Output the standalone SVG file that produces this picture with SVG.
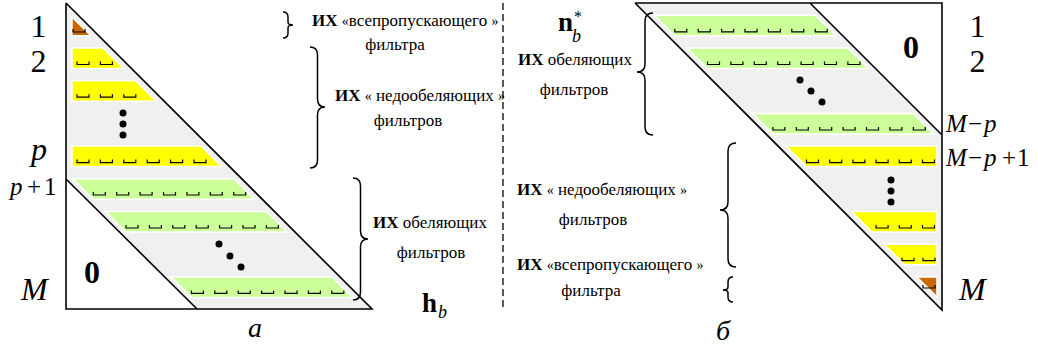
<svg xmlns="http://www.w3.org/2000/svg" width="1038" height="349" viewBox="0 0 1038 349">
<defs>
<path id="mk" d="M0,-3V0H12V-3" fill="none" stroke="#000" stroke-width="1.2"/>
</defs>
<rect width="1038" height="349" fill="#fff"/>

<g id="left-panel">
  <polygon fill="#f0f0f0" points="66,3 66,179 197,309 372,309"/>
  <g stroke="#fff" stroke-width="1.5">
    <polygon fill="#cc6600" points="72,17 72,35.8 90.8,35.8"/>
    <g fill="#ffff00">
      <polygon points="72,48 103,48 123.5,68.5 72,68.5"/>
      <polygon points="72,80.7 135.7,80.7 156.2,101.2 72,101.2"/>
      <polygon points="72,146.1 201.1,146.1 221.6,166.6 72,166.6"/>
    </g>
    <g fill="#ccff99">
      <polygon points="72.8,178.8 233.8,178.8 254.3,199.3 93.3,199.3"/>
      <polygon points="105.5,211.5 266.5,211.5 287,232 126,232"/>
      <polygon points="170.9,276.9 331.9,276.9 352.4,297.4 191.4,297.4"/>
    </g>
  </g>
  <g id="left-marks">
    <use href="#mk" x="73" y="32"/>
    <use href="#mk" x="77" y="64.5"/><use href="#mk" x="100.4" y="64.5"/>
    <use href="#mk" x="77" y="97.2"/><use href="#mk" x="100.4" y="97.2"/><use href="#mk" x="123.8" y="97.2"/>
    <use href="#mk" x="77" y="162.6"/><use href="#mk" x="100.4" y="162.6"/><use href="#mk" x="123.8" y="162.6"/><use href="#mk" x="147.2" y="162.6"/><use href="#mk" x="170.6" y="162.6"/><use href="#mk" x="194" y="162.6"/>
    <use href="#mk" x="93.3" y="195"/><use href="#mk" x="116.7" y="195"/><use href="#mk" x="140.1" y="195"/><use href="#mk" x="163.5" y="195"/><use href="#mk" x="186.9" y="195"/><use href="#mk" x="210.3" y="195"/><use href="#mk" x="233.7" y="195"/>
    <use href="#mk" x="126" y="228"/><use href="#mk" x="149.4" y="228"/><use href="#mk" x="172.8" y="228"/><use href="#mk" x="196.2" y="228"/><use href="#mk" x="219.6" y="228"/><use href="#mk" x="243" y="228"/><use href="#mk" x="266.4" y="228"/>
    <use href="#mk" x="191.4" y="293.4"/><use href="#mk" x="214.8" y="293.4"/><use href="#mk" x="238.2" y="293.4"/><use href="#mk" x="261.6" y="293.4"/><use href="#mk" x="285" y="293.4"/><use href="#mk" x="308.4" y="293.4"/><use href="#mk" x="331.8" y="293.4"/>
  </g>
  <g id="left-dots" fill="#000">
    <circle cx="123" cy="113" r="3.5"/><circle cx="123" cy="124" r="3.5"/><circle cx="123" cy="135" r="3.5"/>
    <circle cx="219" cy="244" r="3.5"/><circle cx="230" cy="256" r="3.5"/><circle cx="241" cy="267" r="3.5"/>
  </g>
  <path d="M66,3V309H372L66,3M66,179L197,309" fill="none" stroke="#000" stroke-width="1.6"/>
  <text font-family="Liberation Serif, Tinos, Times New Roman, serif" font-size="32" font-weight="bold" x="92" y="283" text-anchor="middle">0</text>
</g>

<g id="left-labels" font-family="Liberation Serif, Tinos, Times New Roman, serif">
  <text font-family="Liberation Serif, Tinos, Times New Roman, serif" font-size="32" x="38.5" y="37" text-anchor="middle">1</text>
  <text font-family="Liberation Serif, Tinos, Times New Roman, serif" font-size="32" x="38.5" y="72" text-anchor="middle">2</text>
  <text font-family="Liberation Serif, Tinos, Times New Roman, serif" font-size="32" font-style="italic" x="31" y="160">p</text>
  <text font-family="Liberation Serif, Tinos, Times New Roman, serif" font-size="25" y="195"><tspan font-style="italic" x="10">p</tspan><tspan x="27">+</tspan><tspan x="44">1</tspan></text>
  <text font-family="Liberation Serif, Tinos, Times New Roman, serif" font-size="32" font-style="italic" x="21" y="300">M</text>
  <text font-family="Liberation Serif, Tinos, Times New Roman, serif" font-size="28" font-style="italic" x="255" y="337" text-anchor="middle">a</text>
</g>

<g id="left-braces" fill="none" stroke="#000" stroke-width="1.5">
  <path d="M283,12Q288,12 288,17V22Q288,25 293,25Q288,25 288,28V33Q288,38 283,38"/>
  <path d="M310,47Q317.5,47 317.5,55V99Q317.5,107 325,107Q317.5,107 317.5,115V160Q317.5,168 310,168"/>
  <path d="M353,178Q360.5,178 360.5,186V231Q360.5,239 368,239Q360.5,239 360.5,247V292Q360.5,300 353,300"/>
</g>

<g id="left-texts" font-family="Liberation Serif, Tinos, Times New Roman, serif">
  <text font-family="Liberation Serif, Tinos, Times New Roman, serif" font-size="17" x="312" y="26"><tspan font-weight="bold">ИХ</tspan> <tspan font-size="14">«</tspan>всепропускающего <tspan font-size="14">»</tspan></text>
  <text font-family="Liberation Serif, Tinos, Times New Roman, serif" font-size="17" x="395" y="50" text-anchor="middle">фильтра</text>
  <text font-family="Liberation Serif, Tinos, Times New Roman, serif" font-size="17" x="335" y="101"><tspan font-weight="bold">ИХ</tspan> <tspan font-size="14">«</tspan> недообеляющих <tspan font-size="14">»</tspan></text>
  <text font-family="Liberation Serif, Tinos, Times New Roman, serif" font-size="17" x="408" y="126" text-anchor="middle">фильтров</text>
  <text font-family="Liberation Serif, Tinos, Times New Roman, serif" font-size="17" x="373" y="228"><tspan font-weight="bold">ИХ</tspan> обеляющих</text>
  <text font-family="Liberation Serif, Tinos, Times New Roman, serif" font-size="17" x="431" y="258" text-anchor="middle">фильтров</text>
  <text font-family="Liberation Serif, Tinos, Times New Roman, serif" font-size="27" font-weight="bold" x="422" y="312">h</text>
  <text font-family="Liberation Serif, Tinos, Times New Roman, serif" font-size="18" font-style="italic" x="438" y="318">b</text>
</g>

<g id="connectors">
  <line x1="503" y1="3" x2="503" y2="310" fill="none" stroke="#000" stroke-width="1.3" stroke-dasharray="7 4"/>
</g>

<g id="right-panel">
  <polygon fill="#f0f0f0" points="635,3 810,3 942,135 942,310"/>
  <g stroke="#fff" stroke-width="1.5">
    <g fill="#ccff99">
      <polygon points="654.3,15.3 815.3,15.3 835.8,35.8 674.8,35.8"/>
      <polygon points="687,48 848,48 868.5,68.5 707.5,68.5"/>
      <polygon points="752.4,113.4 913.4,113.4 933.9,133.9 772.9,133.9"/>
    </g>
    <g fill="#ffff00">
      <polygon points="786.1,146.1 937,146.1 937,166.6 806.6,166.6"/>
      <polygon points="851.5,211.5 937,211.5 937,232 872,232"/>
      <polygon points="884.2,244.2 937,244.2 937,264.7 904.7,264.7"/>
    </g>
    <polygon fill="#cc6600" points="917,277 937,277 937,297"/>
  </g>
  <g id="right-marks">
    <use href="#mk" x="674.8" y="31.8"/><use href="#mk" x="698.2" y="31.8"/><use href="#mk" x="721.6" y="31.8"/><use href="#mk" x="745" y="31.8"/><use href="#mk" x="768.4" y="31.8"/><use href="#mk" x="791.8" y="31.8"/><use href="#mk" x="815.2" y="31.8"/>
    <use href="#mk" x="707.5" y="64.5"/><use href="#mk" x="730.9" y="64.5"/><use href="#mk" x="754.3" y="64.5"/><use href="#mk" x="777.7" y="64.5"/><use href="#mk" x="801.1" y="64.5"/><use href="#mk" x="824.5" y="64.5"/><use href="#mk" x="847.9" y="64.5"/>
    <use href="#mk" x="772.9" y="130"/><use href="#mk" x="796.3" y="130"/><use href="#mk" x="819.7" y="130"/><use href="#mk" x="843.1" y="130"/><use href="#mk" x="866.5" y="130"/><use href="#mk" x="889.9" y="130"/><use href="#mk" x="913.3" y="130"/>
    <use href="#mk" x="806.5" y="162.6"/><use href="#mk" x="829.7" y="162.6"/><use href="#mk" x="852.9" y="162.6"/><use href="#mk" x="876.1" y="162.6"/><use href="#mk" x="899.3" y="162.6"/><use href="#mk" x="922.5" y="162.6"/>
    <use href="#mk" x="876.1" y="228"/><use href="#mk" x="899.3" y="228"/><use href="#mk" x="922.5" y="228"/>
    <use href="#mk" x="902" y="260.7"/><use href="#mk" x="923" y="260.7"/>
    <use href="#mk" x="923" y="288"/>
  </g>
  <g id="right-dots" fill="#000">
    <circle cx="800" cy="80" r="3.5"/><circle cx="811" cy="91" r="3.5"/><circle cx="822" cy="102" r="3.5"/>
    <circle cx="891" cy="180" r="3.5"/><circle cx="891" cy="191" r="3.5"/><circle cx="891" cy="202" r="3.5"/>
  </g>
  <path d="M635,3H942V310L635,3M810,3L942,135" fill="none" stroke="#000" stroke-width="1.6"/>
  <text font-family="Liberation Serif, Tinos, Times New Roman, serif" font-size="32" font-weight="bold" x="911" y="58" text-anchor="middle">0</text>
</g>

<g id="right-labels" font-family="Liberation Serif, Tinos, Times New Roman, serif">
  <text font-family="Liberation Serif, Tinos, Times New Roman, serif" font-size="32" x="977.5" y="37" text-anchor="middle">1</text>
  <text font-family="Liberation Serif, Tinos, Times New Roman, serif" font-size="32" x="977.5" y="72" text-anchor="middle">2</text>
  <text font-family="Liberation Serif, Tinos, Times New Roman, serif" font-size="25" y="132"><tspan font-style="italic" x="946">M</tspan><tspan x="968">−</tspan><tspan font-style="italic" x="984">p</tspan></text>
  <text font-family="Liberation Serif, Tinos, Times New Roman, serif" font-size="25" y="166"><tspan font-style="italic" x="946">M</tspan><tspan x="968">−</tspan><tspan font-style="italic" x="984">p</tspan><tspan x="1002">+</tspan><tspan x="1017">1</tspan></text>
  <text font-family="Liberation Serif, Tinos, Times New Roman, serif" font-size="32" font-style="italic" x="959" y="300">M</text>
  <text font-family="Liberation Serif, Tinos, Times New Roman, serif" font-size="28" font-style="italic" x="723" y="340" text-anchor="middle">б</text>
</g>

<g id="right-braces" fill="none" stroke="#000" stroke-width="1.5">
  <path d="M653,13Q645,13 645,21V64Q645,72 637,72Q645,72 645,80V127Q645,135 653,135"/>
  <path d="M736,143Q728,143 728,151V202Q728,210 720,210Q728,210 728,218V259Q728,267 736,267"/>
  <path d="M733,277Q728,277 728,282V287Q728,290 723,290Q728,290 728,293V297Q728,302 733,302"/>
</g>

<g id="right-texts" font-family="Liberation Serif, Tinos, Times New Roman, serif">
  <text font-family="Liberation Serif, Tinos, Times New Roman, serif" font-size="27" font-weight="bold" x="558" y="31">n</text>
  <text font-family="Liberation Serif, Tinos, Times New Roman, serif" font-size="16" x="574" y="22">*</text>
  <text font-family="Liberation Serif, Tinos, Times New Roman, serif" font-size="18" font-style="italic" x="572" y="42">b</text>
  <text font-family="Liberation Serif, Tinos, Times New Roman, serif" font-size="17" x="518" y="65"><tspan font-weight="bold">ИХ</tspan> обеляющих</text>
  <text font-family="Liberation Serif, Tinos, Times New Roman, serif" font-size="17" x="574" y="95" text-anchor="middle">фильтров</text>
  <text font-family="Liberation Serif, Tinos, Times New Roman, serif" font-size="17" x="517" y="195"><tspan font-weight="bold">ИХ</tspan> <tspan font-size="14">«</tspan> недообеляющих <tspan font-size="14">»</tspan></text>
  <text font-family="Liberation Serif, Tinos, Times New Roman, serif" font-size="17" x="593" y="225" text-anchor="middle">фильтров</text>
  <text font-family="Liberation Serif, Tinos, Times New Roman, serif" font-size="17" x="517" y="270"><tspan font-weight="bold">ИХ</tspan> <tspan font-size="14">«</tspan>всепропускающего <tspan font-size="14">»</tspan></text>
  <text font-family="Liberation Serif, Tinos, Times New Roman, serif" font-size="17" x="591" y="296" text-anchor="middle">фильтра</text>
</g>
</svg>
